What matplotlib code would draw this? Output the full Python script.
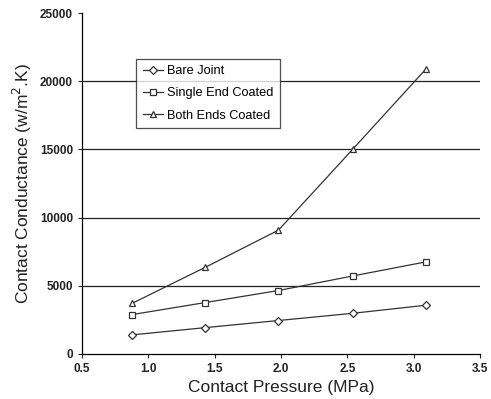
import matplotlib
matplotlib.use('Agg')
import matplotlib.pyplot as plt

pressure = [0.88, 1.43, 1.98, 2.54, 3.09]
bare_joint = [1400, 1930, 2450, 2980, 3570]
single_end = [2890, 3770, 4650, 5720, 6750]
both_ends = [3720, 6360, 9080, 15020, 20890]

plt.rcParams['font.family'] = ['Liberation Sans', 'DejaVu Sans']

fig = plt.figure(figsize=(4.91, 3.99), dpi=100)
ax = fig.add_axes([0.167, 0.113, 0.811, 0.854])

line_kw = dict(color="#333333", linewidth=0.9, markersize=5,
               markerfacecolor="white", markeredgewidth=0.9)
ax.plot(pressure, bare_joint, marker="D", label="Bare Joint", **{**line_kw, "markersize": 4.2})
ax.plot(pressure, single_end, marker="s", label="Single End Coated", **line_kw)
ax.plot(pressure, both_ends, marker="^", label="Both Ends Coated", **line_kw)

ax.set_xlim(0.5, 3.5)
ax.set_ylim(0, 25000)
ax.set_xticks([0.5, 1.0, 1.5, 2.0, 2.5, 3.0, 3.5])
ax.set_xticklabels(["0.5", "1.0", "1.5", "2.0", "2.5", "3.0", "3.5"])
ax.set_yticks([0, 5000, 10000, 15000, 20000, 25000])
ax.tick_params(labelsize=8.5, length=3, width=0.8, colors="#222222")
for lbl in ax.get_xticklabels() + ax.get_yticklabels():
    lbl.set_fontweight("bold")

for yv in [5000, 10000, 15000, 20000]:
    ax.axhline(yv, color="#222222", linewidth=0.9, zorder=0)

ax.spines["top"].set_visible(False)
ax.spines["right"].set_visible(False)
ax.spines["left"].set_linewidth(0.9)
ax.spines["bottom"].set_linewidth(0.9)

ax.set_xlabel("Contact Pressure (MPa)", fontsize=12.5, labelpad=4, color="#222222")
ax.set_ylabel("Contact Conductance (w/m$^2$.K)", fontsize=12.5, labelpad=4, color="#222222")

leg = ax.legend(loc="upper left", bbox_to_anchor=(0.12, 0.885), fontsize=9.2,
                frameon=True, fancybox=False, edgecolor="#222222",
                handlelength=1.6, handletextpad=0.3, borderpad=0.5,
                labelspacing=0.8)
leg.get_frame().set_linewidth(0.9)

fig.savefig("out.png", dpi=100, facecolor="white")
